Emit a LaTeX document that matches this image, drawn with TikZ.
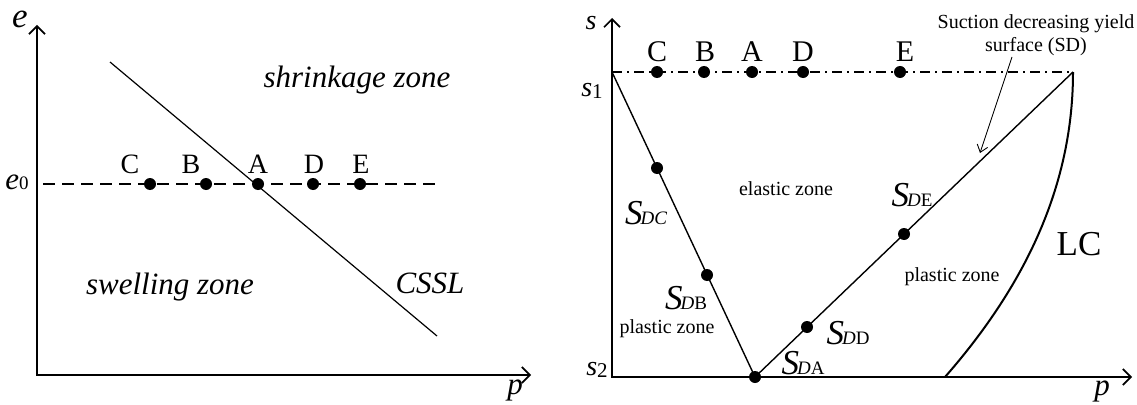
\documentclass[tikz,border=0pt]{standalone}
\usepackage{fontspec}
\setmainfont{Liberation Serif}
\usetikzlibrary{arrows.meta}
\newcommand{\fs}[1]{\fontsize{#1}{#1}\selectfont}
\newcommand{\SubD}[2]{{\fs{35}\itshape S}\kern-2pt{\fs{19}\itshape D}{\fs{19}#2}}
\begin{document}
\begin{tikzpicture}[x=1pt,y=-1pt,
  axes/.style={line width=2pt,{Straight Barb[length=8pt,width=16pt,line width=1.7pt]}-{Straight Barb[length=8pt,width=16pt,line width=1.7pt]}},
  dot/.style={circle,fill=black,inner sep=0pt,minimum size=12pt},
  ptlbl/.style={inner sep=0pt,font=\fs{28}},
  zone/.style={inner sep=0pt,font=\fs{31}\itshape},
  small/.style={inner sep=0pt,font=\fs{20}},
  txt/.style={inner sep=0pt}]
\useasboundingbox (0,0) rectangle (1137,404);

% ---------- left panel ----------
\coordinate (eTop) at (37,25);
\coordinate (eO) at (37,375);
\coordinate (pEndL) at (531,375);
\draw[axes] (eTop) -- (eO) -- (pEndL);
\node[txt,font=\fs{35}\itshape] (elbl) at (20,19) {e};
\node[txt,font=\fs{31}] (e0lbl) at (17,182) {{\itshape e}{\fs{19}0}};
\node[txt,font=\fs{31}\itshape] (plblL) at (515,390) {p};
\coordinate (dashL) at (43,184);
\coordinate (dashR) at (440,184);
\draw[line width=1.3pt,dash pattern=on 12pt off 7pt] (dashL) -- (dashR);
\coordinate (csslA) at (110,62);
\coordinate (csslB) at (437,336);
\draw[line width=1.2pt] (csslA) -- (csslB);
\node[dot] (lC) at (150,184) {};
\node[dot] (lB) at (206,184) {};
\node[dot] (lA) at (258,184) {};
\node[dot] (lD) at (313,184) {};
\node[dot] (lE) at (360,184) {};
\node[ptlbl] (tlC) at (130,164) {C};
\node[ptlbl] (tlB) at (191,164) {B};
\node[ptlbl] (tlA) at (258,164) {A};
\node[ptlbl] (tlD) at (314,164) {D};
\node[ptlbl] (tlE) at (361,164) {E};
\node[zone] (shrink) at (357,80) {shrinkage zone};
\node[zone] (swell) at (170,287) {swelling zone};
\node[zone,font=\fs{31}\itshape] (cssl) at (430,283) {CSSL};

% ---------- right panel ----------
\coordinate (sTop) at (612,18);
\coordinate (sO) at (612,377);
\coordinate (pEndR) at (1132,377);
\draw[axes] (sTop) -- (sO) -- (pEndR);
\node[txt,font=\fs{28}\itshape] (slbl) at (591,23) {s};
\node[txt,font=\fs{28}] (s1lbl) at (592,91) {{\itshape s}{\fs{21}\raisebox{-2pt}{1}}};
\node[txt,font=\fs{28}] (s2lbl) at (597,370) {{\itshape s}{\fs{21}\raisebox{-2pt}{2}}};
\node[txt,font=\fs{31}\itshape] (plblR) at (1102,391) {p};
\coordinate (s1pt) at (612,72);
\coordinate (ddEnd) at (1073,72);
\draw[line width=1.3pt,dash pattern=on 10pt off 5pt on 2pt off 5pt] (s1pt) -- (ddEnd);
\node[dot] (rA0) at (755,377) {};
\draw[line width=1.4pt] (s1pt) -- (rA0.center) -- (ddEnd);
\draw[line width=2pt] (ddEnd) .. controls (1073,180) and (1030,280) .. (945,377);
\node[dot] (rC) at (657,72) {};
\node[dot] (rB) at (704,72) {};
\node[dot] (rA) at (752,72) {};
\node[dot] (rD) at (803,72) {};
\node[dot] (rE) at (900,72) {};
\node[ptlbl,font=\fs{30}] (trC) at (657,52) {C};
\node[ptlbl,font=\fs{30}] (trB) at (705,52) {B};
\node[ptlbl,font=\fs{30}] (trA) at (752,52) {A};
\node[ptlbl,font=\fs{30}] (trD) at (803,52) {D};
\node[ptlbl,font=\fs{30}] (trE) at (905,52) {E};
\node[dot] (dC) at (657,168) {};
\node[dot] (dB) at (707,275) {};
\node[dot] (dD) at (807,327) {};
\node[dot] (dE) at (904,234) {};
\node[txt] (SDC) at (646,213) {{\fs{35}\itshape S}\kern-2pt{\fs{19}\itshape DC}};
\node[txt] (SDB) at (686,298) {\SubD{D}{B}};
\node[txt] (SDA) at (803,363) {\SubD{D}{A}};
\node[txt] (SDD) at (848,333) {\SubD{D}{D}};
\node[txt] (SDE) at (912,195) {\SubD{D}{E}};
\node[small] (elastic) at (786,189) {elastic zone};
\node[small] (plasticL) at (667,329) {plastic zone};
\node[small] (plasticR) at (952,277) {plastic zone};
\node[txt,font=\fs{35}] (LC) at (1079,244) {LC};
\node[inner sep=0pt,align=center,font=\fontsize{20}{23}\selectfont] (SDtext) at (1036,35) {Suction decreasing yield\\surface (SD)};
\coordinate (sdFrom) at (1012,57);
\coordinate (sdTo) at (980,153);
\draw[line width=0.9pt,-{Straight Barb[length=7pt,width=11pt,line width=0.9pt]}] (sdFrom) -- (sdTo);
\end{tikzpicture}
\end{document}
